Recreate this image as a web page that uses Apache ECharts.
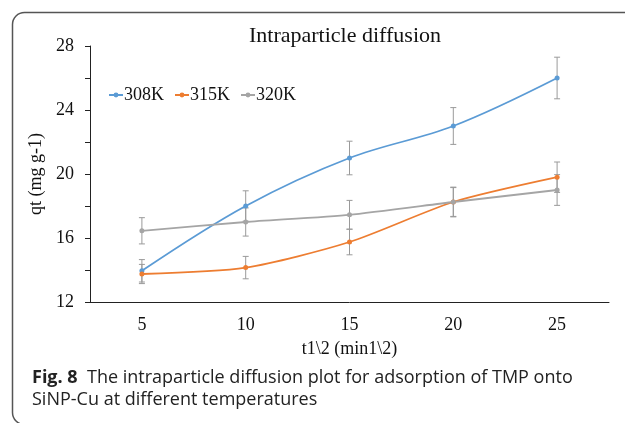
<!DOCTYPE html>
<html>
<head>
<meta charset="utf-8">
<script src="https://cdn.jsdelivr.net/npm/echarts@6/dist/echarts.min.js"></script>
<style>html,body{margin:0;padding:0;background:#fff}#c{width:625px;height:423px}</style>
</head>
<body>
<div id="c"></div>
<script>
const categories = ['5', '10', '15', '20', '25'];
const s308 = [13.95, 18.0, 21.0, 23.0, 26.0];
const s315 = [13.75, 14.15, 15.75, 18.25, 19.8];
const s320 = [16.45, 17.0, 17.45, 18.25, 19.0];
const e308 = [0.7, 0.95, 1.05, 1.15, 1.3];
const e315 = [0.6, 0.7, 0.8, 0.9, 0.95];
const e320 = [0.82, 0.88, 0.9, 0.93, 0.96];
const seriesNames = ['308K', '315K', '320K'];
const colors = ['#5B9BD5', '#ED7D31', '#A5A5A5'];
const yTickLabels = [12, 16, 20, 24, 28];

const serif = '"Liberation Serif", "Times New Roman", serif';
const chart = echarts.init(document.getElementById('c'));

function errData(vals, errs) {
  return vals.map((v, i) => [i, v - errs[i], v + errs[i]]);
}
function errSeries(vals, errs) {
  return {
    type: 'custom',
    silent: true,
    z: 1,
    data: errData(vals, errs),
    renderItem: function (params, api) {
      const lo = api.coord([api.value(0), api.value(1)]);
      const hi = api.coord([api.value(0), api.value(2)]);
      const w = 3;
      const st = {stroke: '#9a9a9a', lineWidth: 1};
      return {
        type: 'group',
        children: [
          {type: 'line', shape: {x1: hi[0], y1: hi[1], x2: lo[0], y2: lo[1]}, style: st},
          {type: 'line', shape: {x1: hi[0] - w, y1: hi[1], x2: hi[0] + w, y2: hi[1]}, style: st},
          {type: 'line', shape: {x1: lo[0] - w, y1: lo[1], x2: lo[0] + w, y2: lo[1]}, style: st}
        ]
      };
    }
  };
}
function lineSeries(name, vals, color, smooth) {
  return {
    name: name, type: 'line', data: vals, smooth: smooth, z: 3,
    symbol: 'circle', symbolSize: 5,
    lineStyle: {color: color, width: 1.8},
    itemStyle: {color: color}
  };
}

chart.setOption({
  animation: false,
  title: {
    text: 'Intraparticle diffusion', left: 340, textAlign: 'center', top: 20,
    textStyle: {fontFamily: serif, fontSize: 22, fontWeight: 'normal', color: '#111'}
  },
  legend: {
    data: seriesNames, left: 103, top: 81, itemWidth: 14, itemHeight: 6, itemGap: 10,
    textStyle: {fontFamily: serif, fontSize: 18, color: '#111', padding: [0, 0, 0, -4]}
  },
  grid: {left: 90, right: 16, top: 46, bottom: 121},
  xAxis: {
    type: 'category', data: categories, boundaryGap: true,
    name: 't1\\2 (min1\\2)', nameLocation: 'middle', nameGap: 38,
    nameTextStyle: {fontFamily: serif, fontSize: 18, color: '#111'},
    axisLine: {lineStyle: {color: '#222', width: 1}},
    axisTick: {length: 5, lineStyle: {color: '#222'}},
    axisLabel: {fontFamily: serif, fontSize: 18, color: '#111', margin: 14}
  },
  yAxis: {
    type: 'value', min: 12, max: 28, interval: 2,
    name: 'qt (mg g-1)', nameLocation: 'middle', nameGap: 35,
    nameTextStyle: {fontFamily: serif, fontSize: 18, color: '#111'},
    axisLine: {show: true, lineStyle: {color: '#222', width: 1}},
    axisTick: {show: true, length: 5, lineStyle: {color: '#222'}},
    splitLine: {show: false},
    axisLabel: {
      fontFamily: serif, fontSize: 18, color: '#111', margin: 16,
      formatter: v => yTickLabels.indexOf(v) >= 0 ? String(v) : ''
    }
  },
  graphic: [
    {type: 'rect', shape: {x: 12.5, y: 12.5, width: 700, height: 412, r: 12},
     style: {fill: 'none', stroke: '#555', lineWidth: 1.5}, z: 100},
    {type: 'text', left: 32, top: 367,
     style: {
       text: '{b|Fig. 8}  The intraparticle diffusion plot for adsorption of TMP onto\nSiNP-Cu at different temperatures',
       font: '18px "Open Sans", sans-serif', fill: '#222', lineHeight: 22,
       rich: {b: {font: 'bold 18px "Open Sans", sans-serif', fill: '#222'}}
     }}
  ],
  series: [
    errSeries(s308, e308), errSeries(s315, e315), errSeries(s320, e320),
    lineSeries('308K', s308, colors[0], 0.35),
    lineSeries('315K', s315, colors[1], 0.25),
    lineSeries('320K', s320, colors[2], 0.2)
  ]
});
</script>
</body>
</html>
